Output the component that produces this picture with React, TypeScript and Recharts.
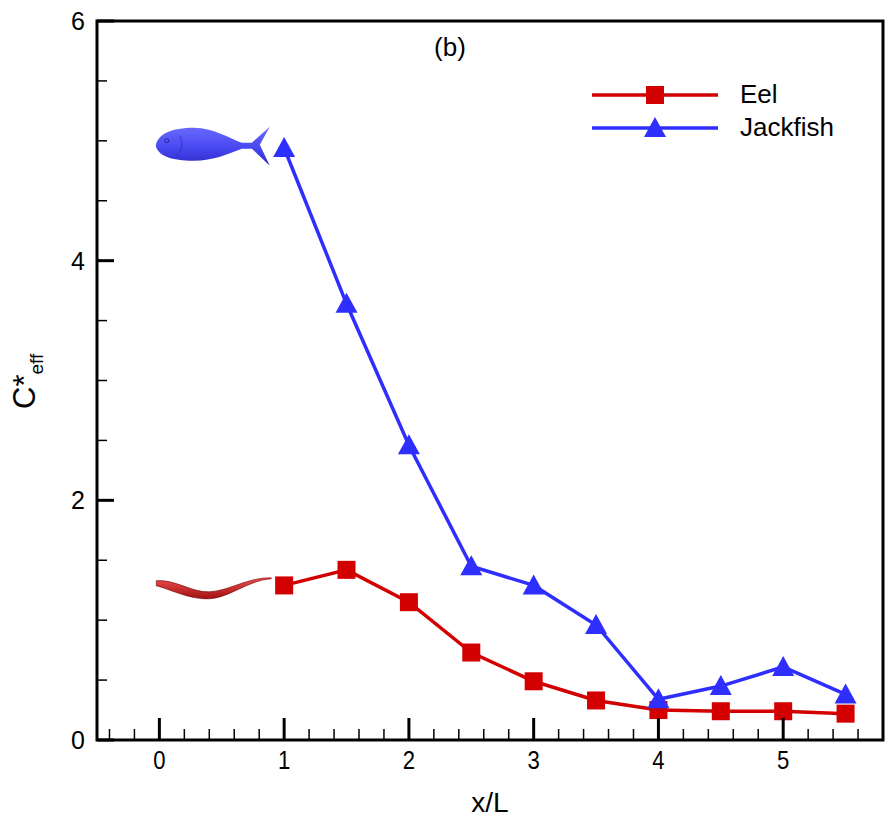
import React from "react";
import {
    LineChart,
    Line,
    XAxis,
    YAxis,
    ReferenceArea,
    ReferenceDot,
    Customized
} from "recharts";

const positions = [1, 1.5, 2, 2.5, 3, 3.5, 4, 4.5, 5, 5.5];
const eelValues = [1.29, 1.42, 1.15, 0.73, 0.49, 0.33, 0.25, 0.24, 0.24, 0.22];
const jackfishValues = [4.94, 3.64, 2.46, 1.45, 1.29, 0.96, 0.34, 0.45, 0.61, 0.38];

const xTicks = [
    -0.4, -0.2, 0, 0.2, 0.4, 0.6, 0.8, 1, 1.2, 1.4, 1.6, 1.8, 2, 2.2, 2.4, 2.6, 2.8,
    3, 3.2, 3.4, 3.6, 3.8, 4, 4.2, 4.4, 4.6, 4.8, 5, 5.2, 5.4, 5.6
];
const yTicks = [0, 0.5, 1, 1.5, 2, 2.5, 3, 3.5, 4, 4.5, 5, 5.5, 6];
const xMajor = [0, 1, 2, 3, 4, 5];
const yMajor = [0, 2, 4, 6];

const data = positions.map((x, i) => ({ x, eel: eelValues[i], jackfish: jackfishValues[i] }));

const RED = "#d20000";
const BLUE = "#2e2eff";
const FONT = "'Liberation Sans', Arial, sans-serif";

const isMajor = (v: number, majors: number[]) => majors.some((m) => Math.abs(m - v) < 1e-6);

function XTick(props: any) {
    const { x, y, payload } = props;
    const major = isMajor(payload.value, xMajor);
    return (
        <g>
            <line x1={x} x2={x} y1={y} y2={y - (major ? 22 : 11)} stroke="#000" strokeWidth={major ? 3 : 1.5} />
            {major && (
                <text
                    transform={`translate(${x},${y + 29}) scale(0.85,1)`}
                    textAnchor="middle"
                    fontSize={26}
                    fontFamily={FONT}
                    fill="#000"
                >
                    {payload.value}
                </text>
            )}
        </g>
    );
}

function YTick(props: any) {
    const { x, y, payload } = props;
    const major = isMajor(payload.value, yMajor);
    return (
        <g>
            <line x1={x} x2={x + (major ? 17 : 10)} y1={y} y2={y} stroke="#000" strokeWidth={major ? 3 : 1.5} />
            {major && (
                <text x={x - 12} y={y + 9} textAnchor="end" fontSize={25} fontFamily={FONT} fill="#000">
                    {payload.value}
                </text>
            )}
        </g>
    );
}

function SquareDot(props: any) {
    const { cx, cy } = props;
    if (cx == null || cy == null) return null;
    return <rect x={cx - 9} y={cy - 9} width={18} height={18} fill={RED} />;
}

function TriangleDot(props: any) {
    const { cx, cy } = props;
    if (cx == null || cy == null) return null;
    return <polygon points={`${cx},${cy - 11} ${cx + 11},${cy + 9} ${cx - 11},${cy + 9}`} fill={BLUE} />;
}

function JackfishShape(props: any) {
    const { cx, cy } = props;
    if (cx == null || cy == null) return null;
    return (
        <g transform={`translate(${cx},${cy})`}>
            <defs>
                <linearGradient id="fishGrad" x1="0" y1="0" x2="0" y2="1">
                    <stop offset="0%" stopColor="#6a6aff" />
                    <stop offset="55%" stopColor="#4848f0" />
                    <stop offset="100%" stopColor="#2a2ac8" />
                </linearGradient>
            </defs>
            <path
                d="M -46,0 C -44,-12 -30,-18 -8,-18 C 12,-18 26,-8 40,-3 L 50,-3 L 68,-19 L 58,-1 L 68,20 L 50,3 L 40,3 C 26,8 12,15 -8,15 C -30,15 -44,10 -46,0 Z"
                fill="url(#fishGrad)"
            />
            <circle cx={-35} cy={-5} r={2} fill="none" stroke="#1a1a90" strokeWidth={0.8} />
            <path d="M -22,-10 C -18,-2 -20,6 -26,10" fill="none" stroke="#3030b0" strokeWidth={0.8} />
        </g>
    );
}

function EelShape(props: any) {
    const { cx, cy } = props;
    if (cx == null || cy == null) return null;
    return (
        <g transform={`translate(${cx},${cy})`}>
            <defs>
                <linearGradient id="eelGrad" x1="0" y1="0" x2="0" y2="1">
                    <stop offset="0%" stopColor="#f05050" />
                    <stop offset="100%" stopColor="#a01010" />
                </linearGradient>
            </defs>
            <path
                d="M -58,-7 C -40,-9 -22,5 -5,4 C 15,3 35,-11 57,-10 L 57,-9 C 35,-8 15,10 -5,11 C -25,12 -45,1 -58,-2 Z"
                fill="url(#eelGrad)"
                stroke="#700000"
                strokeWidth={0.6}
            />
        </g>
    );
}

function YLabel() {
    return (
        <text transform="translate(35,409) rotate(-90)" fontFamily={FONT} fill="#000">
            <tspan fontSize={31}>C*</tspan>
            <tspan fontSize={19} dy={8}>eff</tspan>
        </text>
    );
}

function ChartLegend() {
    const items = [
        { name: "Eel", color: RED, marker: "square" },
        { name: "Jackfish", color: BLUE, marker: "triangle" }
    ];
    return (
        <div style={{ position: "absolute", left: 592, top: 78, fontFamily: FONT }}>
            {items.map((it) => (
                <div key={it.name} style={{ display: "flex", alignItems: "center", height: 33 }}>
                    <svg width={130} height={26}>
                        <line x1={0} x2={126} y1={13} y2={13} stroke={it.color} strokeWidth={3.5} />
                        {it.marker === "square" ? (
                            <rect x={54} y={4} width={18} height={18} fill={it.color} />
                        ) : (
                            <polygon points="63,2 74,22 52,22" fill={it.color} />
                        )}
                    </svg>
                    <span style={{ fontSize: 26, marginLeft: 18, color: "#000" }}>{it.name}</span>
                </div>
            ))}
        </div>
    );
}

export default function App() {
    return (
        <div style={{ position: "absolute", left: 0, top: 0, width: 896, height: 824, background: "#fff" }}>
            <LineChart width={896} height={824} data={data} margin={{ top: 21, right: 13, bottom: 0, left: 0 }}>
                <XAxis
                    dataKey="x"
                    type="number"
                    domain={[-0.5, 5.8]}
                    ticks={xTicks}
                    interval={0}
                    tick={<XTick />}
                    tickLine={false}
                    axisLine={false}
                    tickSize={0}
                    tickMargin={0}
                    height={84}
                    allowDataOverflow
                    label={{ value: "x/L", position: "insideBottom", offset: 12, fontSize: 28, fontFamily: FONT, fill: "#000" }}
                />
                <YAxis
                    type="number"
                    domain={[0, 6]}
                    ticks={yTicks}
                    interval={0}
                    tick={<YTick />}
                    tickLine={false}
                    axisLine={false}
                    tickSize={0}
                    tickMargin={0}
                    width={97}
                    allowDataOverflow
                    label={<YLabel />}
                />
                <ReferenceArea x1={-0.5} x2={5.8} y1={0} y2={6} fill="none" stroke="#000" strokeWidth={3} ifOverflow="visible" />
                <ReferenceDot x={0.34} y={4.96} r={0} shape={<JackfishShape />} ifOverflow="visible" />
                <ReferenceDot x={0.44} y={1.27} r={0} shape={<EelShape />} ifOverflow="visible" />
                <Customized
                    component={() => (
                        <text x={450} y={56} textAnchor="middle" fontSize={26} fontFamily={FONT} fill="#000">
                            (b)
                        </text>
                    )}
                />
                <Line
                    type="linear"
                    dataKey="eel"
                    name="Eel"
                    stroke={RED}
                    strokeWidth={3.5}
                    dot={<SquareDot />}
                    activeDot={false}
                    isAnimationActive={false}
                />
                <Line
                    type="linear"
                    dataKey="jackfish"
                    name="Jackfish"
                    stroke={BLUE}
                    strokeWidth={3.5}
                    dot={<TriangleDot />}
                    activeDot={false}
                    isAnimationActive={false}
                />
            </LineChart>
            <ChartLegend />
        </div>
    );
}
